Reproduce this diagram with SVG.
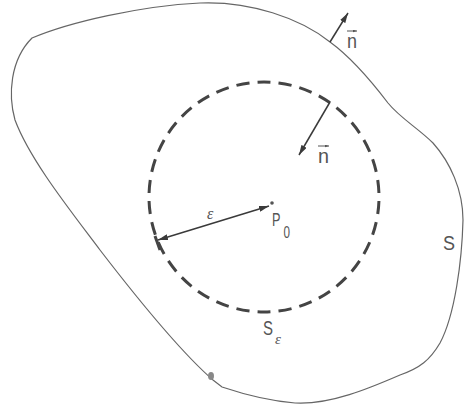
<svg xmlns="http://www.w3.org/2000/svg" width="464" height="408" viewBox="0 0 464 408">
<defs>
<marker id="ah" viewBox="0 0 10 6" refX="10" refY="3" markerWidth="10" markerHeight="6" markerUnits="userSpaceOnUse" orient="auto-start-reverse"><path d="M0,0 L10,3 L0,6 Z" fill="#3a3a3a"/></marker>
<marker id="vh" viewBox="0 0 6 4" refX="6" refY="2" markerWidth="4" markerHeight="3" markerUnits="userSpaceOnUse" orient="auto"><path d="M0,0 L6,2 L0,4 Z" fill="#555"/></marker>
</defs>
<style>
.lbl{font-family:"Liberation Sans",Arial,sans-serif;fill:#555}
.eps{font-family:"Liberation Serif","Times New Roman",serif;font-style:italic;fill:#555}
.arr{stroke:#3a3a3a;stroke-width:1.5;fill:none}
.vec{stroke:#555;stroke-width:1;fill:none}
</style>
<rect width="464" height="408" fill="#fff"/>
<g id="surface-S">
<path d="M32 38 C70 22,140 6,200 3 C250 1,300 18,330 42 C352 58,372 82,388 103 C400 118,418 128,433 143 C450 162,463 190,463 220 C462 260,455 315,440 343 C430 360,420 368,400 375 C370 388,330 405,295 403 C270 401,240 393,222 387 L213 380 C190 360,150 315,100 250 C70 210,30 160,15 120 C8 95,10 60,32 38 Z" fill="none" stroke="#666" stroke-width="1.2"/>
<ellipse cx="211" cy="376" rx="3" ry="4" fill="#888"/>
<text class="lbl" x="443" y="250" font-size="20" textLength="12" lengthAdjust="spacingAndGlyphs">S</text>
</g>
<g id="sphere-Se">
<circle cx="264" cy="197" r="115" fill="none" stroke="#444" stroke-width="3" pathLength="340" stroke-dasharray="6.2 3.8" stroke-dashoffset="8.1"/>
<line x1="155" y1="236" x2="160" y2="250" stroke="#444" stroke-width="3"/>
<text class="lbl" x="263" y="335" font-size="20" textLength="10" lengthAdjust="spacingAndGlyphs">S</text>
<text class="eps" x="275" y="344" font-size="15">ε</text>
</g>
<g id="point-P0">
<circle cx="272" cy="203" r="1.8" fill="#555"/>
<text class="lbl" x="272" y="226" font-size="19" textLength="8.5" lengthAdjust="spacingAndGlyphs">P</text>
<text class="lbl" x="283.5" y="238" font-size="16" textLength="6.5" lengthAdjust="spacingAndGlyphs">0</text>
</g>
<g id="connectors">
<line class="arr" x1="269" y1="206" x2="158" y2="240" marker-start="url(#ah)" marker-end="url(#ah)"/>
<text class="eps" x="207" y="219" font-size="16">ε</text>
<line class="arr" x1="330" y1="42" x2="348" y2="13" marker-end="url(#ah)"/>
<line class="vec" x1="347" y1="31" x2="357" y2="31" marker-end="url(#vh)"/>
<text class="lbl" x="347" y="48" font-size="20" textLength="10" lengthAdjust="spacingAndGlyphs">n</text>
<line class="arr" x1="330" y1="102" x2="299" y2="155" marker-end="url(#ah)"/>
<line class="vec" x1="318" y1="146" x2="329" y2="146" marker-end="url(#vh)"/>
<text class="lbl" x="318" y="163" font-size="20" textLength="11" lengthAdjust="spacingAndGlyphs">n</text>
</g>
</svg>
